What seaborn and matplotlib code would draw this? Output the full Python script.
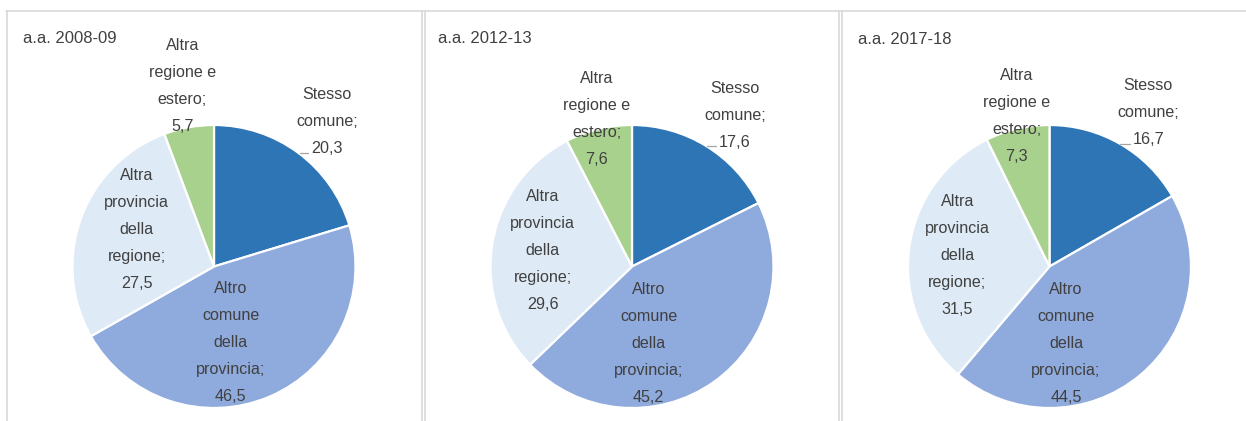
import matplotlib
matplotlib.use("Agg")
import matplotlib.pyplot as plt
import seaborn as sns

# Residence of enrolled students, percentage shares by academic year
years = ["a.a. 2008-09", "a.a. 2012-13", "a.a. 2017-18"]
categories = [
    "Stesso\ncomune;",
    "Altro\ncomune\ndella\nprovincia;",
    "Altra\nprovincia\ndella\nregione;",
    "Altra\nregione e\nestero;",
]
share_2008 = [20.3, 46.5, 27.5, 5.7]
share_2012 = [17.6, 45.2, 29.6, 7.6]
share_2017 = [16.7, 44.5, 31.5, 7.3]
shares = [share_2008, share_2012, share_2017]

slice_colors = ["#2E75B6", "#8FAADC", "#DEEBF7", "#A9D18E"]

sns.set_theme(style="white")
plt.rcParams["font.family"] = ["Liberation Sans", "DejaVu Sans"]

W, H = 1246, 421
fig = plt.figure(figsize=(W / 100, H / 100), dpi=100)
fig.patch.set_facecolor("white")

# panel layout in pixels: pie centre, radius, title anchor, label centres
pie_centres = [(214.0, 266.5), (632.0, 266.5), (1049.5, 266.5)]
pie_radius = 141.5
title_pos = [(23, 38.5), (438, 38.5), (858, 40)]
label_pos = [
    [(327, 121.7), (230.7, 342.5), (136.7, 229), (182.3, 86)],
    [(735, 115.3), (648.7, 343.2), (542.7, 250.5), (596.7, 119)],
    [(1148.3, 112.8), (1066, 343.2), (957.3, 255.7), (1016.7, 115.8)],
]
leader_lines = [
    [(300, 308), (152.5, 152.5)],
    [(707, 716), (146, 146)],
    [(1120, 1130), (143.5, 143.5)],
]

text_color = "#404040"
palette = sns.color_palette(slice_colors)

for (cx, cy), vals in zip(pie_centres, shares):
    ax = fig.add_axes([(cx - pie_radius) / W, (H - cy - pie_radius) / H,
                       2 * pie_radius / W, 2 * pie_radius / H])
    ax.pie(vals, colors=palette, startangle=90, counterclock=False, radius=1,
           wedgeprops=dict(edgecolor="white", linewidth=1.6))
    ax.set_xlim(-1, 1)
    ax.set_ylim(-1, 1)
    ax.axis("off")

# overlay in pixel coordinates for frames, titles and labels
ov = fig.add_axes([0, 0, 1, 1])
ov.set_xlim(0, W)
ov.set_ylim(H, 0)
ov.axis("off")
ov.patch.set_alpha(0)

frame_color = "#D9D9D9"
ov.plot([6, W], [10.5, 10.5], color=frame_color, lw=1.2)
for x in [6.5, 421.5, 424.5, 838.5, 841.5]:
    ov.plot([x, x], [10.5, H], color=frame_color, lw=1.2)

for p, (year, vals) in enumerate(zip(years, shares)):
    tx, ty = title_pos[p]
    ov.text(tx, ty, year, ha="left", va="center", fontsize=12.0, color=text_color)
    for name, v, (lx, ly) in zip(categories, vals, label_pos[p]):
        label = f"{name}\n{v:.1f}".replace(".", ",")
        ov.text(lx, ly, label, ha="center", va="center", fontsize=11.6,
                color=text_color, linespacing=2.0, multialignment="center")
    xs, ys = leader_lines[p]
    ov.plot(xs, ys, color="#A6A6A6", lw=0.9)

fig.savefig("out.png", dpi=100, facecolor="white")
